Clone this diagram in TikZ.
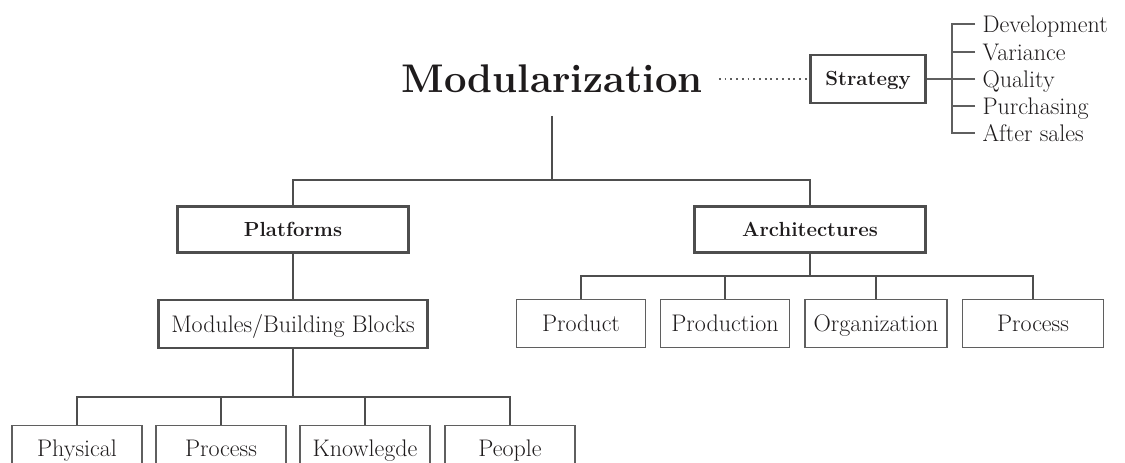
\documentclass[tikz,border=0pt]{standalone}
\definecolor{linegray}{RGB}{78,78,78}
\definecolor{leafgray}{RGB}{95,95,95}
\definecolor{inkblack}{RGB}{30,27,28}
\tikzset{
  % thick framed boxes of the upper levels
  mainbox/.style={draw=linegray, line width=2.2pt, inner sep=0pt, text=inkblack,
    font=\fontsize{15.3}{18}\selectfont\bfseries, text height=10.45pt, text depth=0pt},
  modbox/.style={draw=linegray, line width=2.2pt, inner sep=0pt, text=inkblack,
    font=\fontsize{18}{21}\selectfont, text height=12.3pt, text depth=0pt},
  % thin framed leaf boxes
  leafbox/.style={draw=leafgray, line width=1.15pt, inner sep=0pt, text=inkblack,
    font=\fontsize{18}{21}\selectfont, text height=12.3pt, text depth=0pt},
  % plain list entries next to the strategy box
  listitem/.style={anchor=west, inner xsep=5.5pt, inner ysep=0pt, text=inkblack,
    font=\fontsize{18}{21}\selectfont, text height=12.3pt, text depth=0pt},
  conn/.style={draw=linegray, line width=2.2pt},
  thinconn/.style={draw=leafgray, line width=1.15pt},
  dotline/.style={draw=leafgray, line width=1.5pt, dash pattern=on 1.4pt off 2.9pt},
}
\begin{document}
\begin{tikzpicture}[x=0.75pt, y=-0.75pt]
\useasboundingbox (0,0) rectangle (1125,463);
\clip (0,0) rectangle (1125,463);

% title and strategy branch
\node[inner sep=0pt, text=inkblack, font=\fontsize{30}{35}\selectfont\bfseries,
      text height=20.5pt, text depth=0pt] (mod) at (552,79) {Modularization};
\node[mainbox, minimum width=86pt, minimum height=36pt] (strat) at (868,79) {Strategy};
\draw[dotline] ([xshift=12pt]mod.east) -- (strat.west);

\coordinate (brq) at (952,79);
\node[listitem] (dev) at (975,24)  {Development};
\node[listitem] (var) at (975,52)  {Variance};
\node[listitem] (qua) at (975,79)  {Quality};
\node[listitem] (pur) at (975,106) {Purchasing};
\node[listitem] (aft) at (975,133) {After sales};
\draw[thinconn] (strat.east) -- (brq);
\draw[thinconn] (dev.west) -| (brq) |- (aft.west);
\draw[thinconn] (var.west) -- (var.west -| brq);
\draw[thinconn] (qua.west) -- (brq);
\draw[thinconn] (pur.west) -- (pur.west -| brq);

% first level
\coordinate (modstem) at (552,116);
\coordinate (bar1) at (552,180);
\node[mainbox, minimum width=173pt, minimum height=35pt] (plat) at (293,229.5) {Platforms};
\node[mainbox, minimum width=173pt, minimum height=35pt] (arch) at (810,229.5) {Architectures};
\draw[conn] (modstem) -- (bar1);
\draw[conn] (plat.north) |- (bar1) -| (arch.north);

% platforms branch
\node[modbox, minimum width=202pt, minimum height=36pt] (mods) at (293,324) {Modules/Building Blocks};
\draw[conn] (plat.south) -- (mods.north);
\coordinate (bar2) at (293,397);
\node[leafbox, minimum width=97.5pt, minimum height=34pt] (phys)  at (77,448)  {Physical};
\node[leafbox, minimum width=97.5pt, minimum height=34pt] (proca) at (221,448) {Process};
\node[leafbox, minimum width=97.5pt, minimum height=34pt] (know)  at (365,448) {Knowlegde};
\node[leafbox, minimum width=97.5pt, minimum height=34pt] (peop)  at (510,448) {People};
\draw[conn] (mods.south) -- (bar2);
\draw[conn] (phys.north) |- (bar2) -| (peop.north);
\draw[conn] (proca.north) -- (proca.north |- bar2);
\draw[conn] (know.north) -- (know.north |- bar2);

% architectures branch
\coordinate (bar3) at (810,276);
\node[leafbox, minimum width=97pt,  minimum height=36pt] (prod)  at (581,323.5)  {Product};
\node[leafbox, minimum width=97pt,  minimum height=36pt] (prodn) at (725,323.5)  {Production};
\node[leafbox, minimum width=106.5pt, minimum height=36pt] (org) at (876,323.5)  {Organization};
\node[leafbox, minimum width=106pt, minimum height=36pt] (procb) at (1033,323.5) {Process};
\draw[conn] (arch.south) -- (bar3);
\draw[conn] (prod.north) |- (bar3) -| (procb.north);
\draw[conn] (prodn.north) -- (prodn.north |- bar3);
\draw[conn] (org.north) -- (org.north |- bar3);
\end{tikzpicture}
\end{document}
